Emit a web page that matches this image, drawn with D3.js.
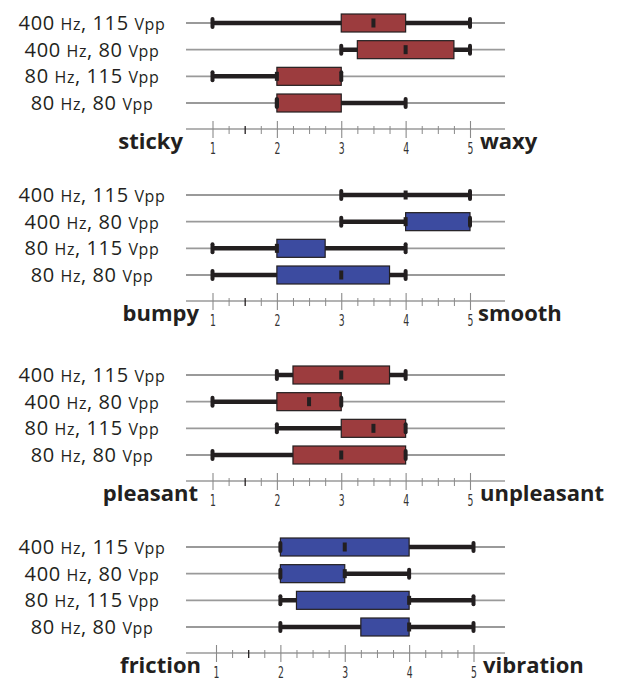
<!DOCTYPE html>
<html>
<head>
<meta charset="utf-8">
<script src="https://cdn.jsdelivr.net/npm/d3@7"></script>
<style>
  body { margin: 0; background: #fff; }
  svg { display: block; }
</style>
</head>
<body>
<script>
// rows, top to bottom in each panel
var freqs = ["400", "400", "80", "80"];
var amps  = ["115", "80", "115", "80"];

var leftWords  = ["sticky", "bumpy", "pleasant", "friction"];
var rightWords = ["waxy", "smooth", "unpleasant", "vibration"];
var tickLabels = [1, 2, 3, 4, 5];

// [min, q1, median, q3, max] per row, per panel
var waxy = [
    [1, 3, 3.5, 4, 5],
    [3, 3.25, 4, 4.75, 5],
    [1, 2, 2, 3, 3],
    [2, 2, 2, 3, 4]
];
var smooth = [
    [3, 4, 4, 4, 5],
    [3, 4, 4, 5, 5],
    [1, 2, 2, 2.75, 4],
    [1, 2, 3, 3.75, 4]
];
var unpleasant = [
    [2, 2.25, 3, 3.75, 4],
    [1, 2, 2.5, 3, 3],
    [2, 3, 3.5, 4, 4],
    [1, 2.25, 3, 4, 4]
];
var vibration = [
    [2, 2, 3, 4, 5],
    [2, 2, 3, 3, 4],
    [2, 2.25, 4, 4, 5],
    [2, 3.25, 4, 4, 5]
];

var panelData = [waxy, smooth, unpleasant, vibration];
var panelColor = ["#9c3c3e", "#3c4ba0", "#9c3c3e", "#3c4ba0"];

// layout
var W = 618, H = 681;
var panelTop = [23, 195, 375, 547];
var panelShift = [0, 0, 0, 3.5];
var leftEnd = [183, 199, 198, 201];
var rightStart = [480, 478, 480, 483];

var svg = d3.select("body").append("svg")
    .attr("width", W)
    .attr("height", H);

var rows = d3.range(freqs.length);

panelData.forEach(function (data, p) {
    var x = d3.scaleLinear()
        .domain([1, 5])
        .range([212.5 + panelShift[p], 470 + panelShift[p]]);

    var y = d3.scalePoint()
        .domain(rows)
        .range([0, 80]);

    var g = svg.append("g")
        .attr("transform", "translate(0," + panelTop[p] + ")");

    // row grid lines
    g.selectAll(".grid")
        .data(rows)
        .enter().append("line")
        .attr("x1", 186).attr("x2", 505)
        .attr("y1", function (d) { return y(d); })
        .attr("y2", function (d) { return y(d); })
        .attr("stroke", "#9a9a9a")
        .attr("stroke-width", 1.8);

    // row labels
    var lab = g.selectAll(".rowlab")
        .data(rows)
        .enter().append("text")
        .attr("x", 92)
        .attr("y", function (d) { return y(d) + 7; })
        .attr("text-anchor", "middle")
        .style("font-family", "'Open Sans', 'Noto Sans', sans-serif")
        .style("letter-spacing", "0.6px")
        .style("fill", "#231f20");
    lab.append("tspan").style("font-size", "20px").text(function (d) { return freqs[d] + " "; });
    lab.append("tspan").style("font-size", "16px").text("Hz");
    lab.append("tspan").style("font-size", "20px").text(function (d) { return ", " + amps[d] + " "; });
    lab.append("tspan").style("font-size", "16px").text("Vpp");

    var box = g.selectAll(".box")
        .data(data)
        .enter().append("g")
        .attr("transform", function (d, i) { return "translate(0," + y(i) + ")"; });

    // whisker
    box.append("line")
        .attr("x1", function (d) { return x(d[0]); })
        .attr("x2", function (d) { return x(d[4]); })
        .attr("stroke", "#231f20")
        .attr("stroke-width", 4.5);

    // box
    box.filter(function (d) { return d[3] > d[1]; })
        .append("rect")
        .attr("x", function (d) { return x(d[1]); })
        .attr("width", function (d) { return x(d[3]) - x(d[1]); })
        .attr("y", -9)
        .attr("height", 18)
        .attr("fill", panelColor[p])
        .attr("stroke", "#231f20")
        .attr("stroke-width", 1.2);

    // whisker caps
    box.each(function (d) {
        var b = d3.select(this);
        [d[0], d[4]].forEach(function (v) {
            b.append("rect")
                .attr("x", x(v) - 2)
                .attr("y", -6)
                .attr("width", 4)
                .attr("height", 12)
                .attr("rx", 2)
                .attr("fill", "#231f20");
        });
    });

    // median
    box.append("rect")
        .attr("x", function (d) { return x(d[2]) - 2; })
        .attr("y", -4.5)
        .attr("width", 4)
        .attr("height", 9)
        .attr("fill", "#231f20");

    // axis
    var ay = y(rows[rows.length - 1]) + 26;
    var ax = g.append("g")
        .attr("transform", "translate(0," + ay + ")");

    ax.append("line")
        .attr("x1", 186).attr("x2", 505)
        .attr("stroke", "#9a9a9a")
        .attr("stroke-width", 1.5);

    var minor = d3.range(1, 5.001, 0.25).filter(function (v) { return v % 1 !== 0; });

    var minorAxis = ax.append("g")
        .call(d3.axisBottom(x).tickValues(minor).tickFormat(""));
    minorAxis.select(".domain").remove();
    minorAxis.selectAll(".tick line")
        .attr("y1", -3).attr("y2", 5)
        .attr("stroke", function (d) { return d === 1.5 ? "#231f20" : "#8a8a8a"; })
        .attr("stroke-width", function (d) { return d === 1.5 ? 1.3 : 1; });

    var majorAxis = ax.append("g")
        .call(d3.axisBottom(x).tickValues(tickLabels).tickFormat(d3.format("d")));
    majorAxis.select(".domain").remove();
    majorAxis.selectAll(".tick line")
        .attr("y1", -8).attr("y2", 9)
        .attr("stroke", "#8a8a8a")
        .attr("stroke-width", 1.1);
    majorAxis.selectAll(".tick text")
        .attr("y", 25)
        .attr("dy", null)
        .attr("transform", "scale(0.62,1)")
        .style("font-family", "'DejaVu Sans', sans-serif")
        .style("font-size", "15px")
        .style("fill", "#333");

    // end words
    ax.append("text")
        .attr("x", leftEnd[p])
        .attr("y", 20)
        .attr("text-anchor", "end")
        .style("font-family", "'Open Sans', sans-serif")
        .style("font-weight", "bold")
        .style("font-size", "22px")
        .style("fill", "#231f20")
        .text(leftWords[p]);

    ax.append("text")
        .attr("x", rightStart[p])
        .attr("y", 20)
        .style("font-family", "'Open Sans', sans-serif")
        .style("font-weight", "bold")
        .style("font-size", "22px")
        .style("fill", "#231f20")
        .text(rightWords[p]);
});
</script>
</body>
</html>
